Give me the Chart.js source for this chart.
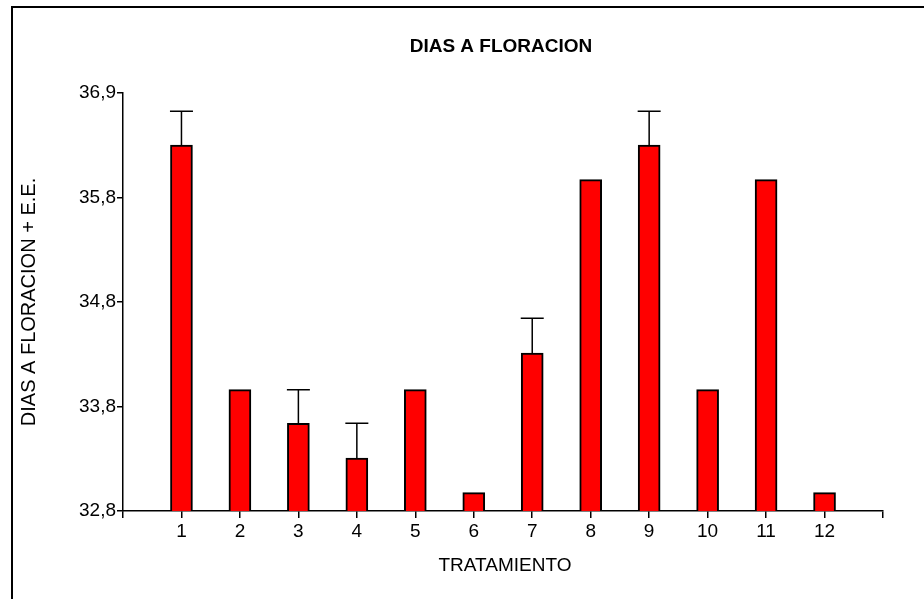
<!DOCTYPE html>
<html>
<head>
<meta charset="utf-8">
<script src="https://cdn.jsdelivr.net/npm/chart.js@4.4.1/dist/chart.umd.min.js"></script>
<style>
  html, body { margin: 0; padding: 0; background: #fff; }
  #wrap { position: relative; width: 924px; height: 599px; overflow: hidden; }
  #frame { position: absolute; left: 11px; top: 6px; width: 940px; height: 640px;
           border-left: 2px solid #000; border-top: 2px solid #000; pointer-events: none; }
  canvas { position: absolute; left: 0; top: 0; }
</style>
</head>
<body>
<div id="wrap">
  <canvas id="c" width="924" height="599"></canvas>
  <div id="frame"></div>
</div>
<script>
// ---- data ----
const chartTitle = 'DIAS A FLORACION';
const xTitle = 'TRATAMIENTO';
const yTitle = 'DIAS A FLORACION + E.E.';
const categories = [1, 2, 3, 4, 5, 6, 7, 8, 9, 10, 11, 12];
const means = [36.39, 33.99, 33.66, 33.32, 33.99, 32.98, 34.35, 36.05, 36.39, 33.99, 36.05, 32.98];
const stdErrors = [0.33, 0, 0.33, 0.34, 0, 0, 0.34, 0, 0.33, 0, 0, 0];
const yTickValues = [32.8, 33.825, 34.85, 35.875, 36.9];
const yTickLabels = ['32,8', '33,8', '34,8', '35,8', '36,9'];
const xTickValues = [0, 1, 2, 3, 4, 5, 6, 7, 8, 9, 10, 11, 12, 13];
const yMin = 32.8, yMax = 36.9, xMin = 0, xMax = 13;

const FONT = "'Liberation Sans', Arial, sans-serif";

const errorBars = {
  id: 'errorBars',
  afterDatasetsDraw(chart) {
    const ctx = chart.ctx;
    const xs = chart.scales.x, ys = chart.scales.y;
    ctx.save();
    ctx.strokeStyle = '#000';
    ctx.lineWidth = 1.5;
    categories.forEach((c, i) => {
      if (!stdErrors[i]) return;
      const x = xs.getPixelForValue(c);
      const y0 = ys.getPixelForValue(means[i]);
      const y1 = ys.getPixelForValue(means[i] + stdErrors[i]);
      ctx.beginPath();
      ctx.moveTo(x, y0);
      ctx.lineTo(x, y1);
      ctx.moveTo(x - 11.5, y1);
      ctx.lineTo(x + 11.5, y1);
      ctx.stroke();
    });
    ctx.restore();
  }
};

const titles = {
  id: 'titles',
  afterDraw(chart) {
    const ctx = chart.ctx;
    ctx.save();
    ctx.fillStyle = '#000';
    ctx.textAlign = 'center';
    ctx.textBaseline = 'middle';
    ctx.font = 'bold 19px ' + FONT;
    ctx.fillText(chartTitle, 501, 47);
    ctx.font = '19px ' + FONT;
    ctx.fillText(xTitle, 505, 566);
    ctx.translate(29, 302);
    ctx.rotate(-Math.PI / 2);
    ctx.font = '20px ' + FONT;
    ctx.fillText(yTitle, 0, 0);
    ctx.restore();
  }
};

new Chart(document.getElementById('c'), {
  type: 'bar',
  data: {
    datasets: [{
      data: categories.map((c, i) => ({ x: c, y: means[i] })),
      backgroundColor: '#ff0000',
      borderColor: '#000',
      borderWidth: 2,
      borderSkipped: false,
      barThickness: 22
    }]
  },
  options: {
    responsive: false,
    animation: false,
    devicePixelRatio: 1,
    layout: { padding: { left: 0, top: 93, right: 41, bottom: 0 } },
    plugins: { legend: { display: false }, title: { display: false }, tooltip: { enabled: false } },
    scales: {
      x: {
        type: 'linear',
        min: xMin, max: xMax,
        offset: false,
        afterBuildTicks(scale) { scale.ticks = xTickValues.map(v => ({ value: v })); },
        afterFit(scale) { scale.height = 599 - 511; },
        ticks: {
          color: '#000',
          font: { family: FONT, size: 19 },
          padding: 2,
          maxRotation: 0,
          autoSkip: false,
          callback: (v) => (categories.includes(v) ? String(v) : '')
        },
        grid: { display: true, offset: false, drawOnChartArea: false, drawTicks: true, tickLength: 7, color: '#000', lineWidth: 1.5 },
        border: { display: true, color: '#000', width: 1.5 }
      },
      y: {
        type: 'linear',
        min: yMin, max: yMax,
        afterBuildTicks(scale) { scale.ticks = yTickValues.map(v => ({ value: v })); },
        afterFit(scale) { scale.width = 123; },
        ticks: {
          color: '#000',
          font: { family: FONT, size: 19 },
          padding: 1,
          autoSkip: false,
          callback: (v) => { const k = yTickValues.indexOf(v); return k >= 0 ? yTickLabels[k] : ''; }
        },
        grid: { display: true, drawOnChartArea: false, drawTicks: true, tickLength: 6, color: '#000', lineWidth: 1.5 },
        border: { display: true, color: '#000', width: 1.5 }
      }
    }
  },
  plugins: [errorBars, titles]
});
</script>
</body>
</html>
